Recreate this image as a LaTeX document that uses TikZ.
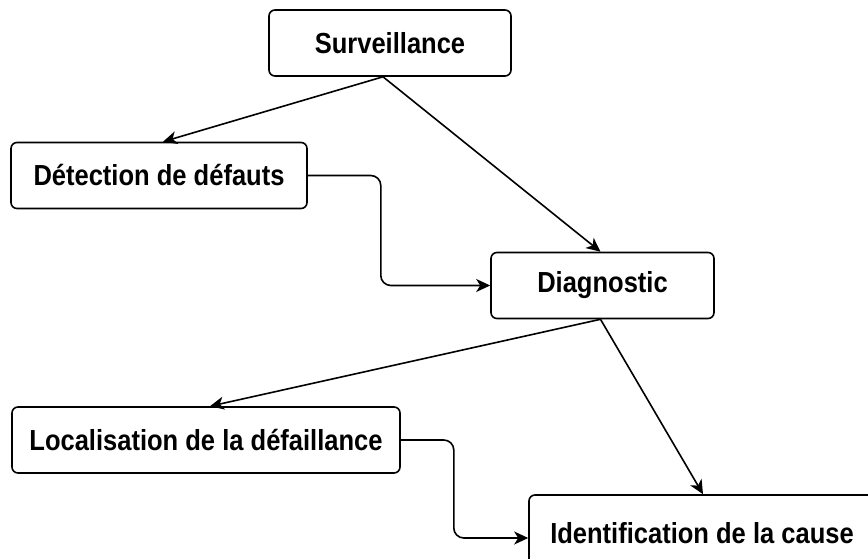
\documentclass[tikz,border=0pt]{standalone}
\usepackage{fontspec}
\setmainfont{Liberation Sans}[FakeStretch=0.88]
\usetikzlibrary{arrows.meta}
\begin{document}
\begin{tikzpicture}[x=1pt,y=1pt,
  box/.style={draw, line width=1.6pt, rounded corners=6pt, minimum height=66pt,
    inner sep=0pt, font=\fontsize{29}{32}\selectfont\bfseries, fill=white},
  link/.style={line width=1.6pt, -{Stealth[length=14pt,width=13pt,inset=4pt]}},
  elbow/.style={link, rounded corners=10pt}]
\useasboundingbox (0,0) rectangle (868,-559);
\clip (0,0) rectangle (868,-559);
\fill[white] (0,0) rectangle (868,-559);

\node[box, minimum width=242pt] (surv)  at (390,-43)    {Surveillance};
\node[box, minimum width=296pt] (det)   at (159,-175.5) {Détection de défauts};
\node[box, minimum width=223pt] (diag)  at (602.5,-285.5) {Diagnostic};
\node[box, minimum width=388pt] (loc)   at (206,-440)   {Localisation de la défaillance};
\node[box, minimum width=346pt, minimum height=86pt] (ident) at (702,-538) {\raisebox{10pt}{Identification de la cause}};

\draw[link] ([xshift=-7pt]surv.south) -- ([xshift=4pt]det.north);
\draw[link] ([xshift=-7pt]surv.south) -- ([xshift=-2pt]diag.north);
\draw[elbow] (det.east) -- ++(73,0) |- (diag.west);
\draw[link] ([xshift=-2pt]diag.south) -- ([xshift=4pt]loc.north);
\draw[link] ([xshift=-2pt]diag.south) -- ([xshift=1pt]ident.north);
\draw[elbow] (loc.east) -- ++(53,0) |- (ident.west);
\end{tikzpicture}
\end{document}
